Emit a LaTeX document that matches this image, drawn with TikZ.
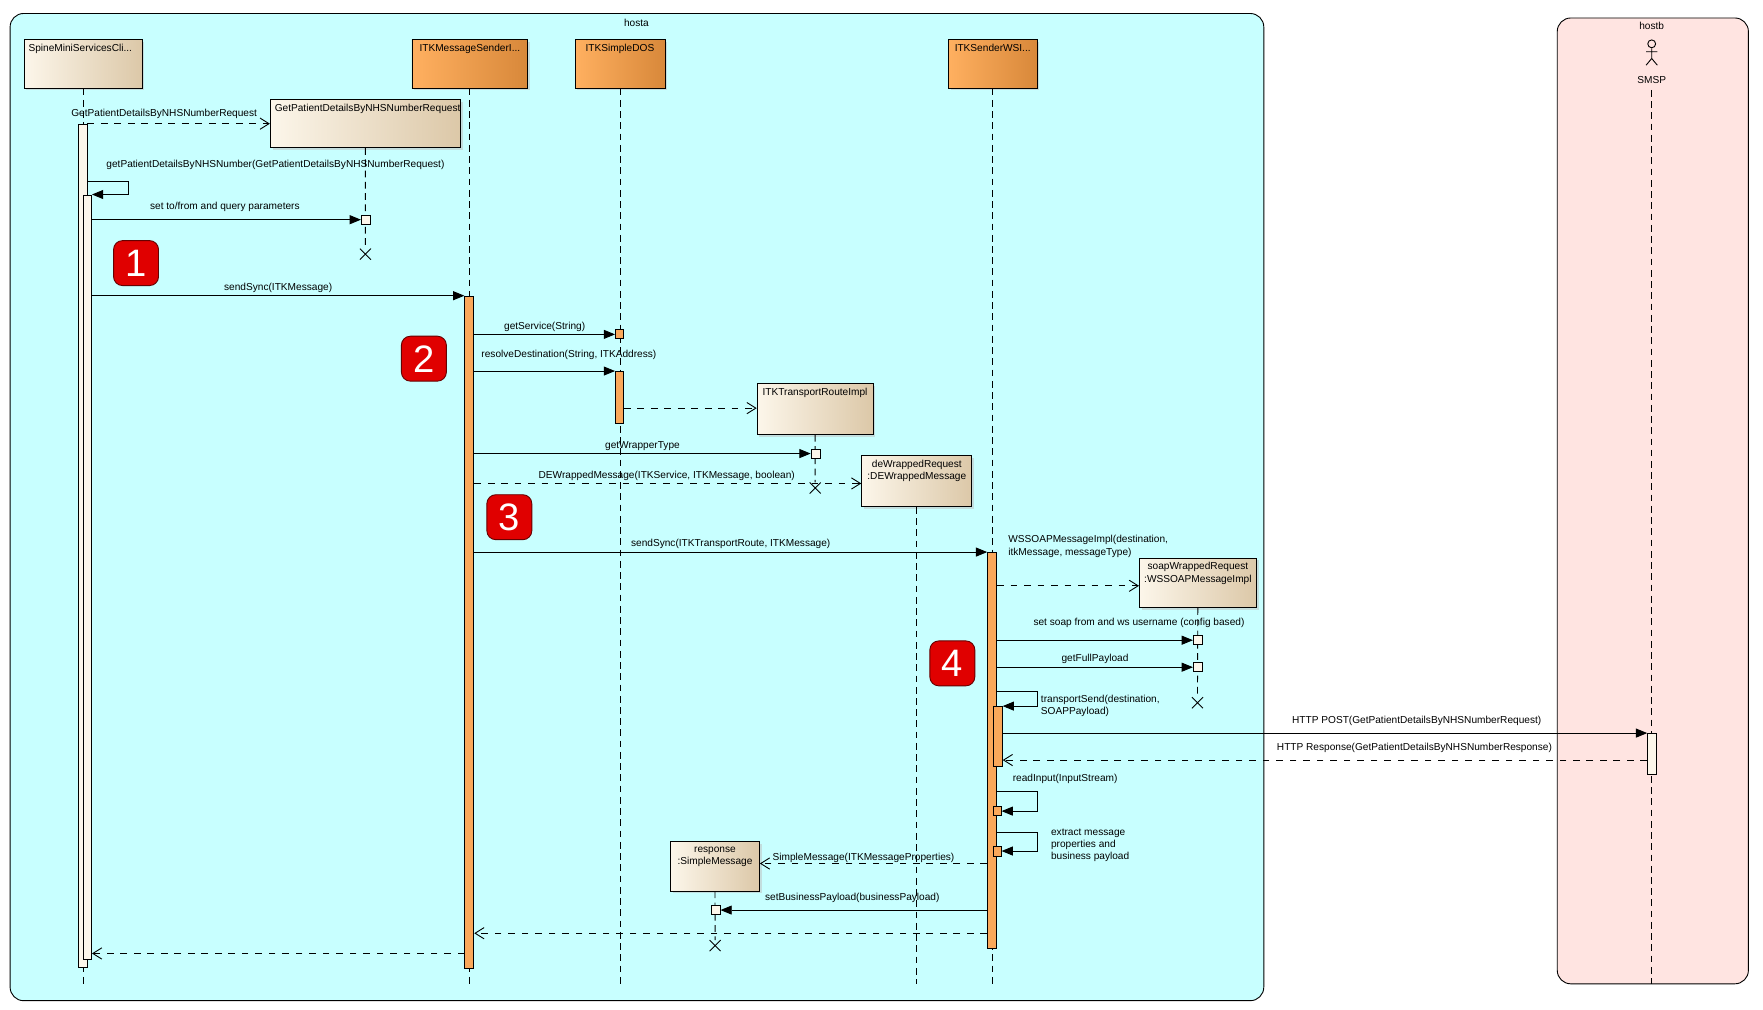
\documentclass[tikz,border=0pt]{standalone}
\usepackage{fontspec}
\setmainfont{Liberation Sans}
\usetikzlibrary{arrows.meta,shapes.misc,shadows}
\definecolor{hostA}{RGB}{200,255,255}
\definecolor{hostB}{RGB}{255,228,225}
\definecolor{objL}{RGB}{252,246,234}
\definecolor{objR}{RGB}{220,200,168}
\definecolor{clsL}{RGB}{255,176,96}
\definecolor{clsR}{RGB}{216,136,58}
\definecolor{actO}{RGB}{250,168,90}

\begin{document}
\begin{tikzpicture}[x=0.5pt, y=-0.5pt,
    lbl/.style = {font=\fontsize{4.5}{5.4}\selectfont, inner sep=1.2pt},
    obj/.style = {draw, thin, left color=objL, right color=objR, anchor=north west, minimum height=21.5pt, drop shadow={shadow xshift=1pt, shadow yshift=-1pt, fill=gray!50}},
    cls/.style = {obj, left color=clsL, right color=clsR},
    act/.style = {draw, thin, fill=actO, anchor=north west, minimum width=4pt, minimum height=4pt, inner sep=0pt},
    wact/.style = {act, fill=objL},
    life/.style = {densely dashed, thin},
    call/.style = {thin, -{Triangle[length=5pt, width=4pt]}},
    ret/.style = {thin, dashed, -{Straight Barb[length=4pt, width=5pt]}},
    xmark/.style = {draw, cross out, thin, minimum size=4.5pt, inner sep=0pt},
    badge/.style = {fill=red!88!black, draw=red!40!black, rounded corners=4pt, minimum size=20pt, text=white, font=\fontsize{17}{17}\selectfont}]

    \useasboundingbox (0,0) rectangle (1568,898);

    % Frames
    \draw[thin, fill=hostA, rounded corners=6pt] (9,12) rectangle (1124,890);
    \node[lbl] (hosta) at (566,20) {hosta};
    \draw[thin, fill=hostB, rounded corners=6pt] (1385,16) rectangle (1555,875);
    \node[lbl] (hostb) at (1469,23) {hostb};

    % Lifelines
    \node[obj, minimum width=52.5pt, label={[lbl, anchor=north west, inner sep=2pt]north west:SpineMiniServicesCli...}] (spine) at (21,35) {};
    \node[cls, minimum width=51.5pt, label={[lbl, anchor=north, inner sep=2pt]north:ITKMessageSenderI...}] (sender) at (366,35) {};
    \node[cls, minimum width=40pt, label={[lbl, anchor=north, inner sep=2pt]north:ITKSimpleDOS}] (dos) at (511,35) {};
    \node[cls, minimum width=39.5pt, label={[lbl, anchor=north, inner sep=2pt]north:ITKSenderWSI...}] (wsi) at (843,35) {};
    \node[obj, minimum width=84.5pt, label={[lbl, anchor=north west, inner sep=2pt]north west:GetPatientDetailsByNHSNumberRequest}] (gp) at (240,88) {};
    \node[obj, minimum width=51.5pt, minimum height=22.5pt, label={[lbl, anchor=north, inner sep=2pt]north:ITKTransportRouteImpl}] (route) at (673,341) {};
    \node[obj, minimum width=49pt, minimum height=22.5pt, label={[lbl, anchor=north, align=center, inner sep=2pt]north:deWrappedRequest\\:DEWrappedMessage}] (dewrap) at (766,405) {};
    \node[obj, minimum width=52pt, minimum height=22pt, label={[lbl, anchor=north, align=center, inner sep=2pt]north:soapWrappedRequest\\:WSSOAPMessageImpl}] (soap) at (1013,496) {};
    \node[obj, minimum width=39.5pt, minimum height=22pt, label={[lbl, anchor=north, align=center, inner sep=2.5pt]north:response\\:SimpleMessage}] (resp) at (596,748) {};

    % Actor
    \draw[thin] (1469,39) circle (3.5);
    \draw[thin] (1469,43) -- (1469,52) (1464,46) -- (1474,46) (1464,58) -- (1469,52) -- (1474,58);
    \node[lbl] (smsp) at (1469,71) {SMSP};

    % Destruction marks
    \node[xmark] (gpX) at (325,226) {};
    \node[xmark] (routeX) at (725,434) {};
    \node[xmark] (soapX) at (1065,625) {};
    \node[xmark] (respX) at (636,841) {};

    \draw[life] (spine) -- (spine |- 0,875);
    \draw[life] (sender) -- (sender |- 0,875);
    \draw[life] (dos) -- (dos |- 0,875);
    \draw[life] (wsi) -- (wsi |- 0,875);
    \draw[life] (gp) -- (gpX);
    \draw[life] (route) -- (routeX);
    \draw[life] (dewrap) -- (dewrap |- 0,875);
    \draw[life] (soap) -- (soapX);
    \draw[life] (resp) -- (respX);
    \draw[life] (1469,80) -- (1469,875);

    % Activations
    \node[wact, minimum height=375pt] (spA1) at (69,110) {};
    \node[wact, minimum width=3.5pt, minimum height=340pt] (spA2) at (74,173) {};
    \node[act, minimum height=299pt] (snA) at (413,263) {};
    \node[act, minimum width=3.5pt] (dosA1) at (547,293) {};
    \node[act, minimum width=3.5pt, minimum height=23pt] (dosA2) at (547,330) {};
    \node[wact] (gpA) at (321,191) {};
    \node[wact] (rtA) at (721,399) {};
    \node[act, minimum height=176pt] (wsiA1) at (878,491) {};
    \node[act, minimum height=26.5pt] (wsiA2) at (883,628) {};
    \node[act, minimum width=3.5pt] (wsiA3) at (883,717) {};
    \node[act, minimum width=3.5pt, minimum height=4.5pt] (wsiA4) at (883,752) {};
    \node[wact] (soA1) at (1061,565) {};
    \node[wact] (soA2) at (1061,589) {};
    \node[wact, minimum height=18pt] (smA) at (1465,652) {};
    \node[wact] (reA) at (632,805) {};

    % Messages
    \draw[ret] (spA1.east |- 0,110) -- (gp.west |- 0,110);
    \node[lbl] (m1) at (146,101) {GetPatientDetailsByNHSNumberRequest};
    \draw[call] (spA1.east |- 0,161) -- ++(36,0) |- (spA2.north east);
    \node[lbl] (m2) at (245,147) {getPatientDetailsByNHSNumber(GetPatientDetailsByNHSNumberRequest)};
    \draw[call] (spA2.east |- gpA.west) -- (gpA.west);
    \node[lbl] (m3) at (200,184) {set to/from and query parameters};
    \draw[call] (spA2.east |- snA.north) -- (snA.north west) node[lbl, above, midway] {sendSync(ITKMessage)};
    \draw[call] (snA.east |- dosA1.west) -- (dosA1.west) node[lbl, above, midway] {getService(String)};
    \draw[call] (snA.east |- dosA2.north) -- (dosA2.north west);
    \node[lbl] (m6) at (506,316) {resolveDestination(String, ITKAddress)};
    \draw[ret] (dosA2.east |- 0,363) -- (route.west |- 0,363);
    \draw[call] (snA.east |- rtA.west) -- (rtA.west) node[lbl, above, midway] {getWrapperType};
    \draw[ret] (snA.east |- 0,430) -- (dewrap.west |- 0,430);
    \node[lbl] (m9) at (593,423) {DEWrappedMessage(ITKService, ITKMessage, boolean)};
    \draw[call] (snA.east |- wsiA1.north) -- (wsiA1.north west) node[lbl, above, midway] {sendSync(ITKTransportRoute, ITKMessage)};
    \draw[ret] (wsiA1.east |- 0,521) -- (soap.west |- 0,521);
    \node[lbl, align=left, anchor=west] (m11) at (894,486) {WSSOAPMessageImpl(destination,\\itkMessage, messageType)};
    \draw[call] (wsiA1.east |- soA1.west) -- (soA1.west);
    \node[lbl] (m12) at (1013,554) {set soap from and ws username (config based)};
    \draw[call] (wsiA1.east |- soA2.west) -- (soA2.west) node[lbl, above, midway] {getFullPayload};
    \draw[call] (wsiA1.east |- 0,615) -- ++(36,0) |- (wsiA2.north east);
    \node[lbl, align=left, anchor=west] (m14) at (923,628) {transportSend(destination,\\SOAPPayload)};
    \draw[call] (wsiA2.east |- smA.north) -- (smA.north west);
    \node[lbl] (m15) at (1260,641) {HTTP POST(GetPatientDetailsByNHSNumberRequest)};
    \draw[ret] (smA.west |- 0,676) -- (wsiA2.east |- 0,676);
    \node[lbl] (m16) at (1258,665) {HTTP Response(GetPatientDetailsByNHSNumberResponse)};
    \draw[call] (wsiA1.east |- 0,704) -- ++(36,0) |- (wsiA3.east);
    \node[lbl, anchor=west] (m17) at (898,693) {readInput(InputStream)};
    \draw[call] (wsiA1.east |- 0,740) -- ++(36,0) |- (wsiA4.east);
    \node[lbl, align=left, anchor=west] (m18) at (932,752) {extract message\\properties and\\business payload};
    \draw[ret] (wsiA1.west |- 0,768) -- (resp.east |- 0,768);
    \node[lbl] (m19) at (768,763) {SimpleMessage(ITKMessageProperties)};
    \draw[call] (wsiA1.west |- reA.east) -- (reA.east);
    \node[lbl] (m20) at (758,799) {setBusinessPayload(businessPayload)};
    \draw[ret] (wsiA1.west |- 0,830) -- (snA.east |- 0,830);
    \draw[ret] (snA.west |- 0,848) -- (spA2.east |- 0,848);

    % Step badges
    \node[badge] (b1) at (121,234) {1};
    \node[badge] (b2) at (377,319) {2};
    \node[badge] (b3) at (453,460) {3};
    \node[badge] (b4) at (847,590) {4};
\end{tikzpicture}
\end{document}
